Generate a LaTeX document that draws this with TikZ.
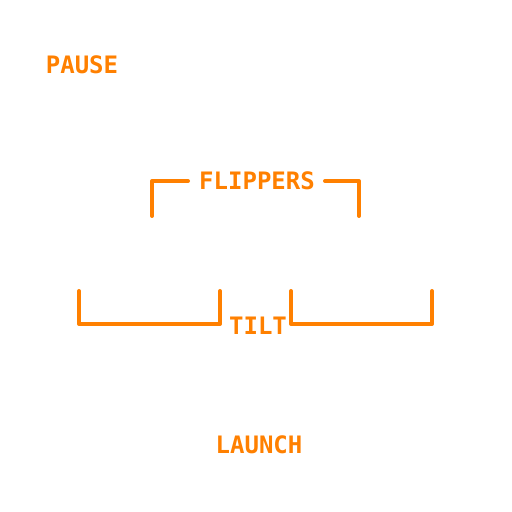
\documentclass[tikz,border=0pt]{standalone}
\usepackage{fontspec}
\setmonofont{DejaVu Sans Mono}
\definecolor{hudorange}{HTML}{FF8000}
\tikzset{
  hudlabel/.style={text=hudorange,font=\ttfamily\bfseries\fontsize{12}{12}\selectfont,inner sep=0pt},
  hudline/.style={draw=hudorange,line width=2pt,line cap=round,line join=round}
}
\begin{document}
\begin{tikzpicture}[x=0.5pt,y=-0.5pt]
  \useasboundingbox (0,0) rectangle (512,512);

  \begin{scope}[every node/.style={hudlabel}]
    \node (pause)    at (82,65)    {PAUSE};
    \node (flippers) at (257,181)  {FLIPPERS};
    \node (tilt)     at (258,326)  {TILT};
    \node (launch)   at (259,445)  {LAUNCH};
  \end{scope}

  % flipper bracket
  \draw[hudline] (152,216) -- (152,181) -- (188,181);
  \draw[hudline] (325,181) -- (359,181) -- (359,216);

  % tilt brackets
  \draw[hudline] (79,291) -- (79,324) -- (220,324) -- (220,291);
  \draw[hudline] (291,291) -- (291,324) -- (432,324) -- (432,291);

\end{tikzpicture}
\end{document}
